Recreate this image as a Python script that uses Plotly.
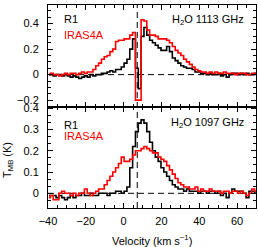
import plotly.graph_objects as go
from plotly.subplots import make_subplots

# channel grid (km/s)
v_start = -39.5
v_width = 1.5
n_chan = 74
velocity = [v_start + v_width * i for i in range(n_chan)]

# H2O 1113 GHz
r1_1113 = [0.00, 0.00, -0.01, 0.00, 0.00, -0.01, 0.00, -0.01, -0.02, -0.01,
           -0.02, -0.03, -0.02, -0.01, -0.02, 0.00, -0.01, 0.00, 0.00, 0.01,
           0.01, 0.02, 0.03, 0.02, 0.04, 0.04, 0.06, 0.09, 0.12, 0.20,
           0.28, 0.05, -0.11, 0.30, 0.37, 0.31, 0.27, 0.25, 0.23, 0.21,
           0.19, 0.19, 0.22, 0.18, 0.13, 0.11, 0.09, 0.07, 0.06, 0.05,
           0.05, 0.04, 0.02, 0.02, 0.01, 0.01, 0.00, 0.01, 0.00, 0.00,
           0.01, -0.01, 0.00, -0.02, 0.00, 0.01, 0.01, 0.00, 0.01, 0.00,
           0.01, 0.00, 0.00, 0.01]
iras4a_1113 = [0.00, 0.01, 0.00, 0.00, -0.01, 0.00, 0.01, 0.00, 0.01, 0.01,
               0.00, 0.01, 0.02, 0.01, 0.02, 0.02, 0.04, 0.07, 0.09, 0.12,
               0.14, 0.15, 0.18, 0.20, 0.26, 0.27, 0.27, 0.28, 0.28, 0.31,
               0.33, -0.20, -0.20, 0.43, 0.42, 0.35, 0.31, 0.31, 0.30, 0.28,
               0.28, 0.28, 0.27, 0.25, 0.22, 0.19, 0.17, 0.15, 0.12, 0.10,
               0.08, 0.06, 0.04, 0.03, 0.02, 0.02, 0.01, 0.02, 0.01, 0.02,
               0.01, 0.01, 0.02, 0.01, 0.01, 0.01, 0.00, 0.01, 0.01, 0.01,
               0.00, 0.00, 0.01, 0.01]

# H2O 1097 GHz
r1_1097 = [-0.01, -0.01, -0.01, -0.02, -0.01, -0.02, -0.03, -0.02, -0.01, -0.02,
           -0.01, -0.01, 0.00, -0.01, -0.01, 0.00, -0.01, -0.01, 0.00, 0.00,
           0.00, -0.01, 0.00, 0.00, 0.01, 0.01, 0.00, 0.01, 0.03, 0.12,
           0.22, 0.29, 0.33, 0.345, 0.33, 0.29, 0.24, 0.20, 0.17, 0.15,
           0.12, 0.10, 0.08, 0.06, 0.04, 0.03, 0.02, 0.02, 0.01, 0.02,
           0.01, 0.01, 0.01, 0.00, 0.01, 0.01, 0.00, 0.01, 0.01, 0.00,
           0.01, -0.01, 0.00, -0.02, 0.00, 0.02, 0.01, 0.01, 0.01, 0.00,
           -0.02, 0.01, 0.01, 0.00]
iras4a_1097 = [-0.02, -0.01, -0.03, -0.03, 0.00, 0.01, 0.00, 0.00, -0.01, 0.00,
               -0.01, 0.00, 0.00, 0.02, 0.00, -0.01, 0.00, 0.01, 0.02, 0.02,
               0.04, 0.06, 0.08, 0.10, 0.12, 0.14, 0.17, 0.15, 0.15, 0.16,
               0.18, 0.20, 0.20, 0.21, 0.22, 0.21, 0.20, 0.19, 0.19, 0.17,
               0.16, 0.15, 0.13, 0.11, 0.09, 0.07, 0.05, 0.04, 0.03, 0.03,
               0.02, 0.02, 0.03, 0.01, 0.02, 0.01, 0.01, 0.02, 0.01, 0.01,
               0.01, 0.00, 0.01, 0.01, 0.00, 0.01, 0.01, 0.00, 0.01, 0.00,
               -0.01, 0.00, 0.02, 0.01]

v_lsr = 7.2

FONT = "Liberation Sans, Arial, Helvetica, sans-serif"

fig = make_subplots(rows=2, cols=1, shared_xaxes=True, vertical_spacing=0)

for row, (blk, red) in enumerate([(r1_1113, iras4a_1113), (r1_1097, iras4a_1097)], start=1):
    fig.add_trace(go.Scatter(x=velocity, y=blk, mode="lines", line_shape="hvh",
                             line=dict(color="black", width=1.6), showlegend=False,
                             hoverinfo="skip"),
                  row=row, col=1)
    fig.add_trace(go.Scatter(x=velocity, y=red, mode="lines", line_shape="hvh",
                             line=dict(color="#ff0000", width=1.6), showlegend=False,
                             hoverinfo="skip"),
                  row=row, col=1)

axis_common = dict(showline=True, linecolor="black", linewidth=1, mirror="allticks",
                   ticks="inside", ticklen=5, tickwidth=1, tickcolor="black",
                   showgrid=False, zeroline=False,
                   tickfont=dict(family=FONT, size=11, color="black"))

fig.update_xaxes(range=[-40, 70], dtick=20, tick0=0,
                 minor=dict(dtick=5, ticklen=3, ticks="inside", tickcolor="black", showgrid=False),
                 **axis_common)
fig.update_xaxes(showticklabels=False, row=1, col=1)
fig.update_xaxes(showticklabels=True, ticklabelstandoff=3, row=2, col=1)

fig.update_yaxes(range=[-0.25, 0.546], dtick=0.2, tick0=0,
                 minor=dict(dtick=0.05, ticklen=3, ticks="inside", tickcolor="black", showgrid=False),
                 ticklabelstandoff=6, row=1, col=1, **axis_common)
fig.update_yaxes(range=[-0.069, 0.4081], dtick=0.1, tick0=0,
                 minor=dict(dtick=0.1 / 3, ticklen=3, ticks="inside", tickcolor="black", showgrid=False),
                 ticklabelstandoff=6, row=2, col=1, **axis_common)

fig.update_layout(yaxis=dict(domain=[0.5, 1]), yaxis2=dict(domain=[0, 0.5]))

# dashed reference lines
for yref in ["y", "y2"]:
    fig.add_shape(type="line", xref="paper", yref=yref, x0=0, x1=1, y0=0, y1=0,
                  line=dict(color="black", width=1, dash="6px,4px"), layer="below")
fig.add_shape(type="line", xref="x", yref="paper", x0=v_lsr, x1=v_lsr, y0=0, y1=1,
              line=dict(color="black", width=1, dash="6px,4px"), layer="below")

def txt(text, x, y, color="black", xanchor="left", angle=0):
    fig.add_annotation(text=text, xref="paper", yref="paper", x=x, y=y,
                       xanchor=xanchor, yanchor="middle", showarrow=False,
                       textangle=angle, font=dict(family=FONT, size=11, color=color))

txt("R1", 0.067, 0.932)
txt("IRAS4A", 0.067, 0.852, color="#ff0000")
txt("H<sub>2</sub>O 1113 GHz", 0.952, 0.925, xanchor="right")
txt("R1", 0.067, 0.411)
txt("IRAS4A", 0.067, 0.353, color="#ff0000")
txt("H<sub>2</sub>O 1097 GHz", 0.952, 0.420, xanchor="right")
txt("T<sub>MB</sub> (K)", -0.192, 0.237, xanchor="center", angle=-90)
txt("Velocity (km s<sup>−1</sup>)", 0.5, -0.159, xanchor="center")

fig.update_layout(width=258, height=247,
                  margin=dict(l=48, r=2, t=1, b=39),
                  paper_bgcolor="white", plot_bgcolor="white",
                  hovermode=False,
                  font=dict(family=FONT, size=11, color="black"))

fig.write_html("out.html",
               config={"displayModeBar": False, "staticPlot": True},
               post_script="document.body.style.margin='0px';document.body.style.overflow='hidden';")
